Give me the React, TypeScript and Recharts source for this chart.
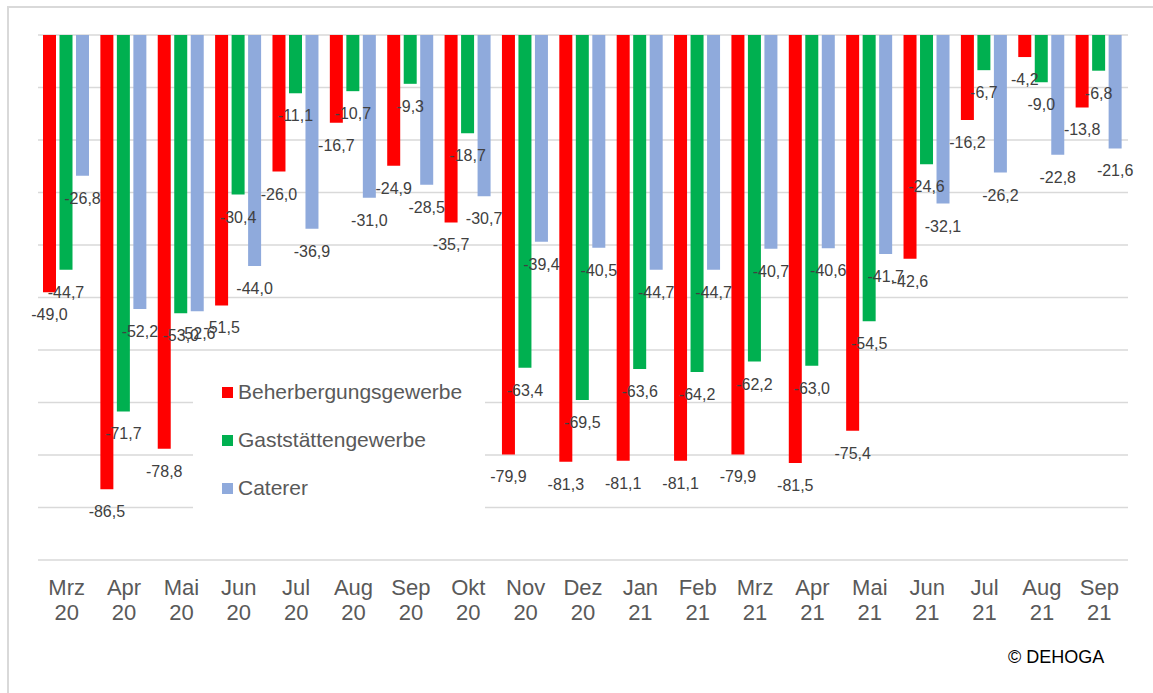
import React from "react";
import {
  BarChart,
  Bar,
  XAxis,
  YAxis,
  CartesianGrid,
  Legend,
  LabelList,
} from "recharts";

const months = [
  "Mrz 20", "Apr 20", "Mai 20", "Jun 20", "Jul 20", "Aug 20", "Sep 20", "Okt 20",
  "Nov 20", "Dez 20", "Jan 21", "Feb 21", "Mrz 21", "Apr 21", "Mai 21", "Jun 21",
  "Jul 21", "Aug 21", "Sep 21",
];

const seriesNames = ["Beherbergungsgewerbe", "Gaststättengewerbe", "Caterer"];

const beherbergung = [
  -49.0, -86.5, -78.8, -51.5, -26.0, -16.7, -24.9, -35.7, -79.9, -81.3, -81.1,
  -81.1, -79.9, -81.5, -75.4, -42.6, -16.2, -4.2, -13.8,
];

const gaststaetten = [
  -44.7, -71.7, -53.0, -30.4, -11.1, -10.7, -9.3, -18.7, -63.4, -69.5, -63.6,
  -64.2, -62.2, -63.0, -54.5, -24.6, -6.7, -9.0, -6.8,
];

const caterer = [
  -26.8, -52.2, -52.6, -44.0, -36.9, -31.0, -28.5, -30.7, -39.4, -40.5, -44.7,
  -44.7, -40.7, -40.6, -41.7, -32.1, -26.2, -22.8, -21.6,
];

const yTicks = [0, -10, -20, -30, -40, -50, -60, -70, -80, -90, -100];

const data = months.map((m, i) => ({
  month: m,
  ber: beherbergung[i],
  gast: gaststaetten[i],
  cat: caterer[i],
}));

const font = "'Liberation Sans', Arial, sans-serif";

const fmt = (v: number) => v.toFixed(1).replace(".", ",");

const ValueLabel = (props: any) => {
  const { x, y, width, height, value } = props;
  const end = Math.max(y, y + height);
  return (
    <text
      x={x + width / 2}
      y={end + 28}
      textAnchor="middle"
      fontSize={16}
      fontFamily={font}
      fill="#404040"
    >
      {fmt(value)}
    </text>
  );
};

const MonthTick = (props: any) => {
  const { x, y, payload } = props;
  const [m, yr] = String(payload.value).split(" ");
  return (
    <text x={x} y={y + 35} textAnchor="middle" fontSize={22} fontFamily={font} fill="#595959">
      <tspan x={x}>{m}</tspan>
      <tspan x={x} dy={25}>{yr}</tspan>
    </text>
  );
};

const LegendBox = (props: any) => {
  const items = [...(props.payload || [])].sort(
    (a: any, b: any) => seriesNames.indexOf(a.value) - seriesNames.indexOf(b.value)
  );
  return (
    <div style={{ width: 292, height: 160, background: "#fff", position: "relative" }}>
      {items.map((p: any, i: number) => (
        <div
          key={p.value}
          style={{
            position: "absolute",
            left: 29,
            top: 34 + i * 48 - 14,
            height: 28,
            display: "flex",
            alignItems: "center",
            fontFamily: font,
            fontSize: 21,
            color: "#595959",
            whiteSpace: "nowrap",
          }}
        >
          <span style={{ width: 11, height: 11, background: p.color, marginRight: 5, display: "inline-block" }} />
          {p.value}
        </div>
      ))}
    </div>
  );
};

export default function App() {
  return (
    <div
      style={{
        position: "absolute",
        left: 0,
        top: 0,
        width: 1153,
        height: 693,
        background: "#fff",
        overflow: "hidden",
      }}
    >
      <div
        style={{
          position: "absolute",
          left: 7,
          top: 6,
          width: 1300,
          height: 800,
          border: "2px solid #d9d9d9",
        }}
      />
      <BarChart
        width={1153}
        height={693}
        data={data}
        margin={{ top: 35, left: 38, right: 25, bottom: 73 }}
        barCategoryGap={5}
        barGap={3.5}
        style={{ position: "absolute", left: 0, top: 0 }}
      >
        <CartesianGrid vertical={false} stroke="#d9d9d9" strokeWidth={1.5} />
        <XAxis
          dataKey="month"
          orientation="bottom"
          height={60}
          axisLine={false}
          tickLine={false}
          tickSize={0}
          tickMargin={0}
          interval={0}
          tick={<MonthTick />}
        />
        <YAxis hide domain={[-100, 0]} ticks={yTicks} />
        <Legend
          layout="vertical"
          verticalAlign="middle"
          align="center"
          content={<LegendBox />}
          wrapperStyle={{ position: "absolute", left: 193, top: 358, width: 292, height: 160 }}
        />
        <Bar dataKey="ber" name={seriesNames[0]} fill="#ff0000" isAnimationActive={false}>
          <LabelList dataKey="ber" content={<ValueLabel />} />
        </Bar>
        <Bar dataKey="gast" name={seriesNames[1]} fill="#00b050" isAnimationActive={false}>
          <LabelList dataKey="gast" content={<ValueLabel />} />
        </Bar>
        <Bar dataKey="cat" name={seriesNames[2]} fill="#8faadc" isAnimationActive={false}>
          <LabelList dataKey="cat" content={<ValueLabel />} />
        </Bar>
      </BarChart>
      <div
        style={{
          position: "absolute",
          left: 1008,
          top: 647,
          fontFamily: font,
          fontSize: 18,
          color: "#000",
          whiteSpace: "nowrap",
        }}
      >
        © DEHOGA
      </div>
    </div>
  );
}
